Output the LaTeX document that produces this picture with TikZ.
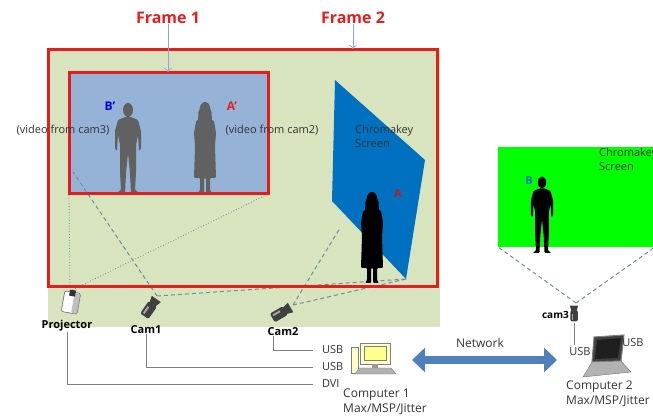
\documentclass[tikz,border=0pt]{standalone}
\usepackage{fontspec}
\setmainfont{Open Sans}
\usetikzlibrary{arrows.meta,positioning}
\definecolor{stage}{HTML}{D7E4BD}
\definecolor{wall}{HTML}{95B3D7}
\definecolor{framered}{HTML}{E41E1E}
\definecolor{keyblue}{HTML}{0070C0}
\definecolor{netblue}{HTML}{4F81BD}
\definecolor{fov}{HTML}{6F8E98}
\definecolor{pcyellow}{HTML}{FFFFC8}
\tikzset{
  framebox/.style={draw=framered,line width=3pt},
  title/.style={text=framered,font=\bfseries\fontsize{16}{18}\selectfont,inner sep=0pt},
  lbl/.style={font=\fontsize{11}{13}\selectfont,inner sep=0pt,text=black!80},
  devlbl/.style={font=\bfseries\fontsize{11}{13}\selectfont,inner sep=0pt},
  port/.style={lbl,anchor=west,outer xsep=9pt},
  wire/.style={draw=black!50,line width=0.8pt},
  view/.style={draw=fov,dash pattern=on 4pt off 3pt,line width=1pt},
  beam/.style={draw=fov,dotted,line width=0.8pt},
  pointer/.style={draw=fov!70!blue!60,line width=0.6pt,-{To[length=4pt]}},
  man/.pic={
    \fill[rounded corners=1] (-3,-76) -- (-10,-73) -- (-13,-62) -- (-13,-44) -- (-11,-42) -- (-10,-58)
      -- (-8,-48) -- (-8,-20) -- (-7,-3) -- (-11,0) -- (-3,0) -- (-2,-20) -- (0,-40) -- (2,-20)
      -- (3,0) -- (11,0) -- (7,-3) -- (8,-20) -- (8,-48) -- (10,-58) -- (11,-42) -- (13,-44)
      -- (13,-62) -- (10,-73) -- (3,-76) -- cycle;
    \fill (0,-83) ellipse [x radius=5,y radius=7];
  },
  woman/.pic={
    \fill[rounded corners=1] (-3,-75) -- (-9,-72) -- (-11,-60) -- (-10,-47) -- (-11,-15) -- (-5,-15)
      -- (-5,-3) -- (-7,0) -- (-1,0) -- (-1,-15) -- (1,-15) -- (1,0) -- (7,0) -- (5,-3) -- (5,-15)
      -- (11,-15) -- (10,-47) -- (11,-60) -- (9,-72) -- (3,-75) -- cycle;
    \fill[rounded corners=3] (-6.5,-84) -- (-7,-69) -- (7,-69) -- (6.5,-84) -- cycle;
    \fill (0,-83) ellipse [x radius=5.5,y radius=8];
  },
  camera/.pic={
    \fill[black!75,rounded corners=1.5] (-5,-5) rectangle (5,10);
    \fill[black!75] (-3.5,-4) -- (-5.5,-11) -- (5.5,-11) -- (3.5,-4) -- cycle;
    \fill[black!35] (-3,0) rectangle (-1,8);
  }
}
\begin{document}
\begin{tikzpicture}[x=1pt,y=-1pt]
\path[use as bounding box,clip] (0,0) rectangle (653,419);

% stage with the two frames
\fill[stage] (48,50) rectangle (440,327);
\fill[wall] (69,73) rectangle (268,194);
\pic[black!62] at (128,193) {man};
\pic[black!62] at (205,193) {woman};

\coordinate (wallbl) at (69,194);
\coordinate (wallbr) at (268,194);
\coordinate (wallin) at (73,172);
\coordinate (keyfoot) at (406,279);
\coordinate (keyleft) at (340,228);
\coordinate (projlens) at (70,291);
\coordinate (camonelens) at (157,296);
\coordinate (camtwolens) at (293,305);
\draw[beam] (projlens) -- (wallbl);
\draw[beam] (projlens) -- (wallbr);
\draw[view] (camonelens) -- (wallin);
\draw[view] (camonelens) -- (keyfoot);
\draw[view] (camtwolens) -- (keyleft);
\draw[view] (camtwolens) -- (keyfoot);

\draw[framebox] (48,50) rectangle (437,287);
\draw[framebox] (69,73) rectangle (268,194);

\fill[keyblue] (335,80) -- (425,160) -- (keyfoot) -- (332,201) -- cycle;
\pic[black] at (372,283) {woman};

\node[title] (frameone) at (168,18) {Frame 1};
\node[title] (frametwo) at (353,18) {Frame 2};
\coordinate (innertop) at (168,72);
\coordinate (outertop) at (353,49);
\draw[pointer] (frameone) -- (innertop);
\draw[pointer] (frametwo) -- (outertop);

\node[devlbl,text=blue!85!black,font=\bfseries\fontsize{12}{14}\selectfont] (bprime) at (110,106) {B’};
\node[devlbl,text=framered,font=\bfseries\fontsize{12}{14}\selectfont] (aprime) at (232,106) {A’};
\node[lbl] (fromcamthree) at (63,130) {(video from cam3)};
\node[lbl] (fromcamtwo) at (272,130) {(video from cam2)};
\node[lbl,anchor=north west,align=left,font=\fontsize{11}{14}\selectfont] (keytext) at (355,125) {Chromakey\\Screen};
\node[devlbl,text=framered!85!black] (aname) at (398,194) {A};

% devices on the floor
\begin{scope}[shift={(71,302)},rotate=-10]
  \filldraw[draw=black!55,fill=white,rounded corners=1.5] (-8,-10) rectangle (8,11);
  \fill[black!25,rounded corners=1.5] (2,-9) rectangle (8,11);
  \draw[black!55,rounded corners=1.5] (-8,-10) rectangle (8,11);
  \fill[black!80] (-3,-12) rectangle (3,-6);
\end{scope}
\pic[rotate=-35] at (150,308) {camera};
\pic[rotate=-60] at (281,313) {camera};

\node[devlbl] (projlbl) at (67,326) {Projector};
\node[devlbl] (camonelbl) at (146,330) {Cam1};
\node[devlbl] (camtwolbl) at (283,332) {Cam2};

\node[port] (usbtwo) at (313,350) {USB};
\node[port] (usbone) at (313,367) {USB};
\node[port] (dvi) at (313,384) {DVI};
\draw[wire] ([xshift=6pt]camtwolbl.south west) |- (usbtwo.west);
\draw[wire] (camonelbl.south) |- (usbone.west);
\draw[wire] (projlbl.south) |- (dvi.west);

% computer 1
\filldraw[draw=black!50,fill=pcyellow] (351,347) rectangle (358,373);
\filldraw[draw=black!50,fill=pcyellow] (360,343) rectangle (390,364);
\filldraw[draw=black!50,fill=pcyellow!70!yellow] (364,346) rectangle (386,360);
\fill[black!40] (372,364) rectangle (378,368);
\filldraw[draw=black!50,fill=black!30] (359,368) -- (391,368) -- (396,374) -- (355,374) -- cycle;
\node[lbl,anchor=north west,align=left,font=\fontsize{12}{14.5}\selectfont] (pcone) at (343,389) {Computer 1\\Max/MSP/Jitter};

% network link
\coordinate (netone) at (412,360);
\coordinate (nettwo) at (557,360);
\draw[netblue,line width=8pt,{Triangle[length=13pt,width=24pt]}-{Triangle[length=13pt,width=24pt]}] (netone) -- (nettwo);
\node[lbl,font=\fontsize{12}{14}\selectfont] (netlbl) at (480,343) {Network};

% remote chromakey room
\fill[green] (498,147) rectangle (660,247);
\node[lbl,anchor=north west,align=left,font=\fontsize{11}{14}\selectfont] (keytexttwo) at (599,148) {Chromakey\\Screen};
\pic[black,scale=0.85] at (542,253) {man};
\node[devlbl,text=keyblue] (bname) at (529,181) {B};
\coordinate (greenbl) at (498,247);
\coordinate (greenbr) at (655,247);
\coordinate (camthreelens) at (576,303);
\draw[view] (camthreelens) -- (greenbl);
\draw[view] (camthreelens) -- (greenbr);
\pic[scale=0.75] at (574,314) {camera};
\node[devlbl,anchor=east,font=\bfseries\fontsize{10}{12}\selectfont] (camthreelbl) at (569,315) {cam3};
\coordinate (camthreefoot) at (574,323);
\coordinate (laptopjack) at (574,345);
\draw[wire] (camthreefoot) -- (laptopjack);

% computer 2
\filldraw[draw=black!50,line width=1pt,fill=black!75] (594,337) -- (624,335) -- (621,361) -- (592,362) -- cycle;
\fill[black!88] (597,340) -- (621,338) -- (618,358) -- (595,359) -- cycle;
\filldraw[draw=black!55,fill=black!30] (592,362) -- (621,361) -- (631,372) -- (583,377) -- cycle;
\node[lbl] (usblaptop) at (580,352) {USB};
\node[lbl] (usbright) at (633,343) {USB};
\node[lbl,anchor=north west,align=left,font=\fontsize{12}{14.5}\selectfont] (pctwo) at (566,381) {Computer 2\\Max/MSP/Jitter};
\end{tikzpicture}
\end{document}
